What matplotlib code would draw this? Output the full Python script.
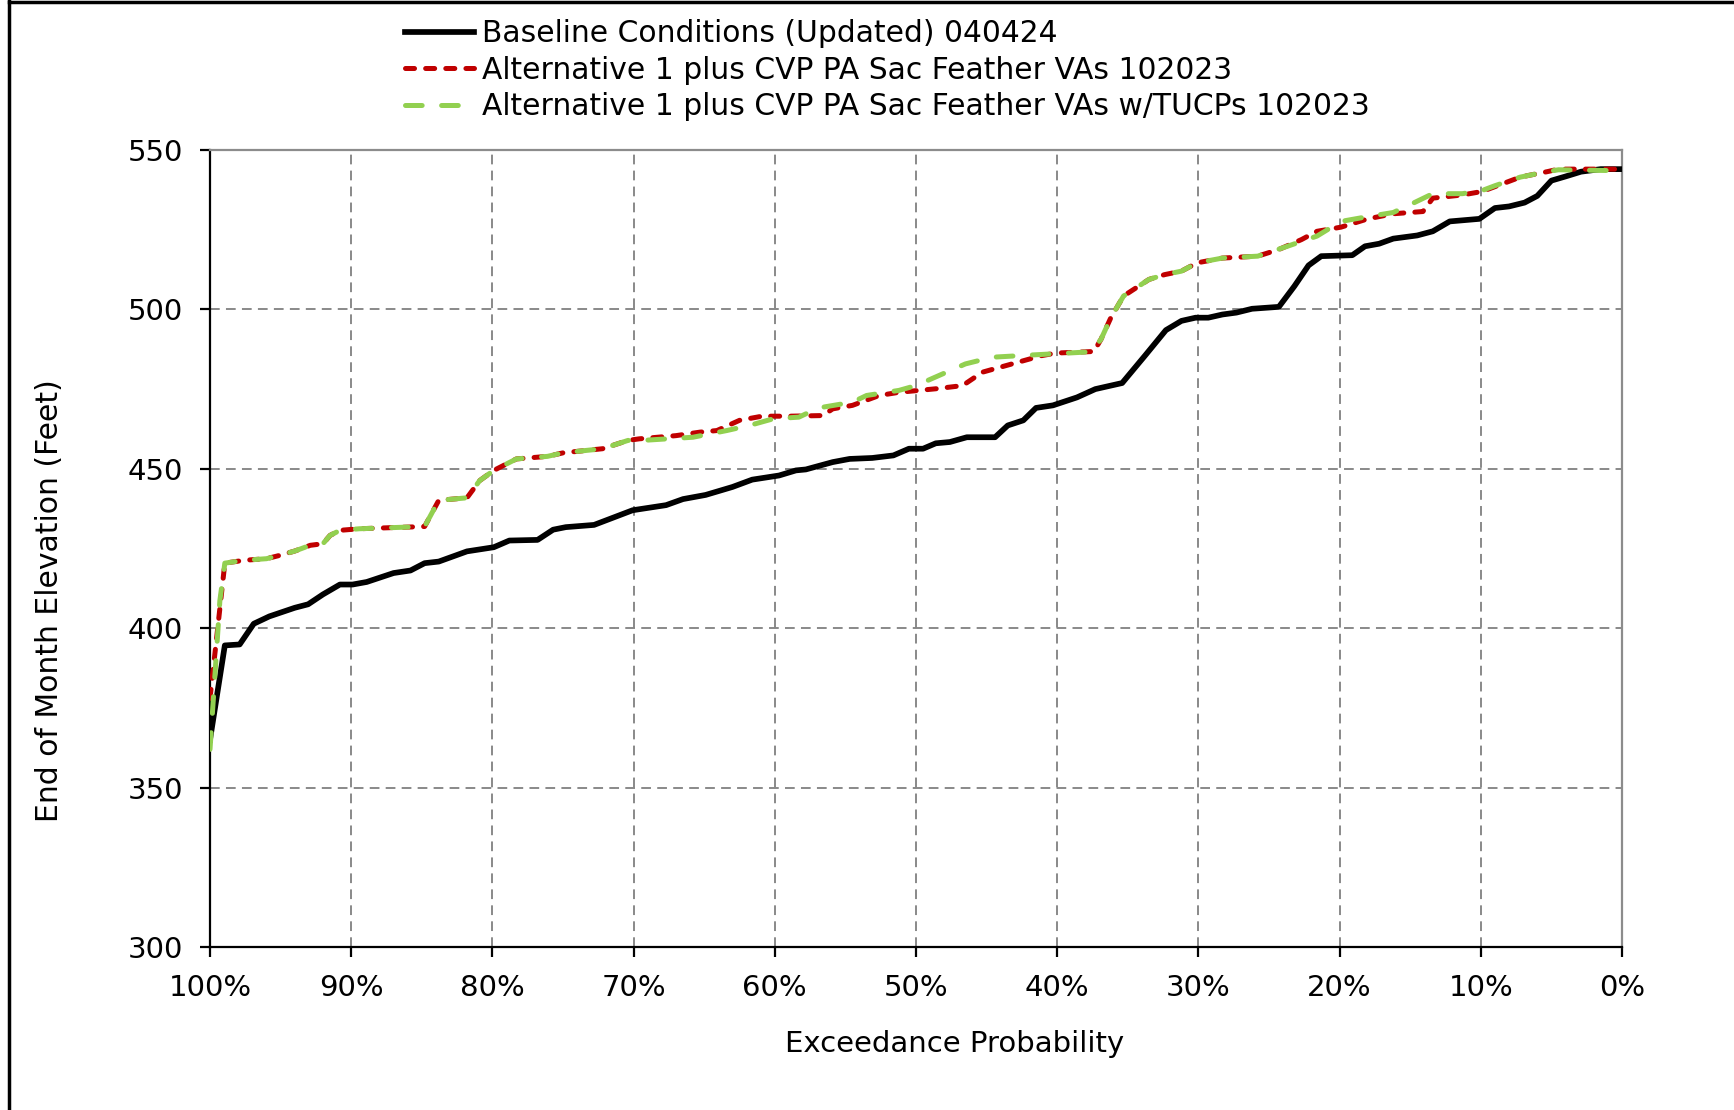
import matplotlib
matplotlib.use("Agg")
import matplotlib.pyplot as plt
from matplotlib.lines import Line2D
from matplotlib.ticker import FuncFormatter, MultipleLocator

# Exceedance probability (%) and end-of-month elevation (ft) for each run
baseline_prob = [100, 98.95, 97.9, 96.9, 95.8, 94.0, 93.05, 92.0, 90.8, 89.9, 88.9, 87.0,
                 85.8, 84.8, 83.8, 81.8, 79.9, 78.8, 76.8, 75.7, 74.8, 72.8, 70.07, 67.7,
                 66.5, 64.9, 63.0, 61.6, 59.7, 58.5, 57.8, 55.9, 54.7, 53.1, 51.6, 50.5,
                 49.5, 48.6, 47.6, 46.4, 44.4, 43.5, 42.4, 41.5, 40.3, 38.6, 37.3, 35.4,
                 33.8, 32.3, 31.2, 30.2, 29.3, 28.3, 27.3, 26.2, 24.3, 23.2, 22.2, 21.3,
                 19.1, 18.2, 17.2, 16.2, 14.5, 13.4, 12.2, 10.1, 9.0, 8.0, 6.9, 6.0, 5.0,
                 4.0, 2.9, 1.5, 0]
baseline_elev = [365, 394.6, 394.9, 401.4, 403.7, 406.4, 407.5, 410.6, 413.7, 413.7, 414.5,
                 417.3, 418.1, 420.4, 420.9, 424.1, 425.4, 427.5, 427.7, 430.9, 431.7, 432.4,
                 437.0, 438.6, 440.5, 441.8, 444.3, 446.6, 447.9, 449.5, 449.8, 452.1, 453.1,
                 453.4, 454.2, 456.3, 456.3, 458.0, 458.4, 459.9, 459.9, 463.6, 465.2, 469.1,
                 469.9, 472.4, 475.0, 476.9, 485.4, 493.5, 496.4, 497.4, 497.4, 498.4, 499.0,
                 500.2, 500.8, 507.3, 513.8, 516.7, 517.0, 519.8, 520.6, 522.2, 523.2, 524.5,
                 527.6, 528.4, 531.8, 532.3, 533.5, 535.6, 540.4, 541.7, 543.2, 544.0, 544.0]

alt1_prob = [100, 98.95, 97.6, 96.0, 95.1, 94.0, 92.9, 92.0, 91.5, 90.8, 89.4, 86.1, 84.8,
             83.8, 81.8, 80.9, 79.9, 78.3, 76.1, 75.0, 72.2, 70.4, 69.6, 67.0, 65.3, 64.1,
             62.5, 60.9, 59.0, 56.6, 55.9, 54.5, 52.6, 51.2, 48.6, 46.7, 45.3, 43.2, 41.1,
             40.1, 37.4, 36.9, 36.2, 35.3, 33.5, 32.4, 31.2, 30.1, 28.3, 25.8, 24.3, 22.7,
             21.6, 19.9, 18.0, 16.2, 14.1, 13.4, 11.3, 9.9, 9.0, 7.2, 5.3, 4.5, 0]
alt1_elev = [378, 420.4, 421.3, 421.8, 422.8, 424.2, 426.0, 426.5, 429.1, 430.7, 431.2, 431.7,
             431.9, 440.1, 440.9, 446.3, 449.5, 453.1, 453.9, 455.0, 456.3, 458.9, 459.4,
             460.4, 461.5, 462.0, 465.2, 466.5, 466.5, 466.7, 468.8, 469.9, 473.0, 474.0,
             475.1, 476.1, 480.3, 482.9, 485.5, 486.3, 486.8, 490.6, 497.4, 504.2, 509.4,
             510.9, 512.0, 514.6, 516.1, 516.7, 518.8, 521.9, 524.5, 525.8, 528.4, 530.0,
             530.7, 534.9, 535.9, 537.0, 538.5, 541.5, 543.2, 544.0, 544.0]

tucp_prob = [100, 99.3, 98.95, 97.6, 96.0, 95.1, 94.0, 92.9, 92.0, 91.5, 90.8, 89.4, 86.1,
             84.8, 83.8, 81.8, 80.9, 79.9, 78.3, 76.1, 75.0, 72.2, 70.4, 69.4, 65.8, 63.4,
             61.8, 60.1, 58.3, 56.9, 54.5, 53.5, 51.2, 50.0, 46.5, 44.6, 41.8, 37.6, 36.9,
             36.2, 35.3, 33.5, 32.4, 31.2, 30.1, 28.3, 25.8, 23.7, 21.6, 19.9, 18.0, 16.2,
             14.8, 13.4, 11.3, 9.9, 9.0, 7.2, 5.3, 4.5, 0]
tucp_elev = [362, 408.7, 420.4, 421.3, 421.8, 422.8, 424.2, 426.0, 426.5, 429.1, 430.7, 431.2,
             431.7, 431.9, 440.1, 440.9, 446.3, 449.5, 453.1, 453.9, 455.0, 456.3, 458.9,
             458.9, 459.9, 462.0, 463.6, 465.7, 466.2, 469.1, 470.9, 473.0, 474.6, 476.1,
             482.9, 485.0, 485.7, 486.7, 490.6, 497.4, 504.2, 509.4, 510.9, 512.0, 514.6,
             516.1, 516.7, 519.8, 523.0, 527.6, 529.1, 530.4, 533.3, 536.3, 536.3, 537.3,
             538.8, 541.5, 543.2, 543.8, 543.5]

series_labels = ["Baseline Conditions (Updated) 040424",
                 "Alternative 1 plus CVP PA Sac Feather VAs 102023",
                 "Alternative 1 plus CVP PA Sac Feather VAs w/TUCPs 102023"]

x_ticks = list(range(0, 101, 10))
y_limits = (300, 550)

plt.rcParams["font.family"] = ["DejaVu Sans"]
plt.rcParams["lines.scale_dashes"] = False

W, H = 1734, 1110
fig = plt.figure(figsize=(W / 100, H / 100), dpi=100)
ax = fig.add_axes([210 / W, 1 - 947 / H, 1412 / W, 797 / H])

ax.plot(baseline_prob, baseline_elev, color="black", lw=4.1,
        solid_joinstyle="round", zorder=3, label=series_labels[0])
ax.plot(alt1_prob, alt1_elev, color="#C00000", lw=3.6, linestyle=(0, (6.5, 8)),
        dash_capstyle="round", zorder=4, label=series_labels[1])
ax.plot(tucp_prob, tucp_elev, color="#92D050", lw=3.6, linestyle=(0, (12, 14)),
        dash_capstyle="round", zorder=5, label=series_labels[2])

ax.set_xlim(100, 0)
ax.set_ylim(*y_limits)
ax.set_xticks(x_ticks)
ax.xaxis.set_major_formatter(FuncFormatter(lambda v, _: f"{v:.0f}%"))
ax.yaxis.set_major_locator(MultipleLocator(50))

ax.grid(True, color="#808080", lw=1.3, linestyle=(0, (7, 4.5)))
ax.set_axisbelow(True)

for side in ("left", "bottom"):
    ax.spines[side].set_color("black")
    ax.spines[side].set_linewidth(1.6)
for side in ("top", "right"):
    ax.spines[side].set_color("#8c8c8c")
    ax.spines[side].set_linewidth(1.6)

ax.tick_params(axis="both", direction="out", length=7.5, width=1.6, colors="black",
               labelsize=21)
ax.tick_params(axis="x", pad=12)
ax.tick_params(axis="y", pad=12)

ax.set_xlabel("Exceedance Probability", fontsize=21)
ax.xaxis.label.set_va("center")
ax.xaxis.set_label_coords((955 - 210) / 1412, (947 - 1044) / 797)
ax.set_ylabel("End of Month Elevation (Feet)", fontsize=21.5)
ax.yaxis.label.set_va("center")
ax.yaxis.set_label_coords((50 - 210) / 1412, (947 - 601) / 797)

fig.legend(loc="upper left", bbox_to_anchor=(405 / W, 1 - 19 / H), frameon=False,
           fontsize=21.4, handlelength=2.33, handletextpad=0.27, labelspacing=0.26,
           borderpad=0, borderaxespad=0)

# Outer frame (top and left edges)
fig.add_artist(Line2D([9 / W, 9 / W], [0, 1], transform=fig.transFigure,
                      color="black", lw=2.5))
fig.add_artist(Line2D([9 / W, 1], [1 - 1.6 / H, 1 - 1.6 / H], transform=fig.transFigure,
                      color="black", lw=2.5))

fig.savefig("out.png", dpi=100)
